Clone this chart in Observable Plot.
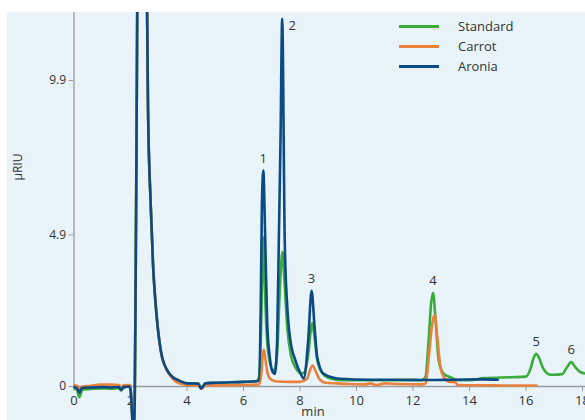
<!DOCTYPE html>
<html>
<head>
<meta charset="utf-8">
<script src="https://cdn.jsdelivr.net/npm/d3@7"></script>
<script src="https://cdn.jsdelivr.net/npm/@observablehq/plot@0.6"></script>
<style>
  body { margin: 0; background: #fff; font-family: "Open Sans", "Noto Sans", sans-serif; }
  #wrap { position: relative; width: 585px; height: 420px; overflow: hidden; }
  #chart { position: absolute; left: 7px; top: 12px; }
  #chart svg { background: #e8f4f9; display: block; }
  .legend { position: absolute; left: 399px; top: 16px; font-size: 13px; color: #333; }
  .legend .row { display: flex; align-items: center; height: 20px; }
  .legend .sw { width: 40px; height: 3px; margin-right: 19px; }
  .ytitle { position: absolute; left: 17px; top: 167px; transform: translate(-50%, -50%) rotate(-90deg); font-size: 12px; color: #333; }
  .xtitle { position: absolute; left: 313px; top: 411px; transform: translate(-50%, -50%); font-size: 13px; line-height: 15px; color: #333; }
</style>
</head>
<body>
<div id="wrap">
  <div id="chart"></div>
  <div class="legend" id="legend"></div>
  <div class="ytitle">µRIU</div>
  <div class="xtitle">min</div>
</div>
<script>
// Retention time (min) and detector response (µRIU) for each run
const standardTime = [0, 0.1, 0.19, 0.3, 0.6, 1.0, 1.3, 1.6, 1.66, 1.75, 1.95, 2.0, 2.05, 2.1, 2.15, 2.2, 2.4, 2.58, 2.62, 2.71, 2.8, 2.88, 3.07, 3.3, 3.5, 3.72, 4.0, 4.4, 4.5, 4.65, 5.0, 6.0, 6.45, 6.55, 6.62, 6.66, 6.70, 6.75, 6.82, 6.92, 7.04, 7.1, 7.2, 7.27, 7.33, 7.38, 7.45, 7.55, 7.68, 7.85, 8.05, 8.15, 8.3, 8.38, 8.43, 8.5, 8.6, 8.8, 9.1, 9.5, 10.5, 11.5, 12.3, 12.44, 12.56, 12.64, 12.71, 12.8, 12.91, 13.09, 13.33, 13.6, 14.0, 14.5, 15.5, 16.0, 16.15, 16.28, 16.36, 16.45, 16.6, 16.8, 16.97, 17.28, 17.45, 17.6, 17.75, 17.93, 18.11];
const standardValue = [-0.05, -0.1, -0.35, -0.1, -0.08, -0.06, -0.07, -0.05, -0.12, -0.05, 0.0, -0.1, -0.8, -1.6, -0.5, 6, 35, 13, 9, 6.0, 3.9, 2.78, 1.17, 0.52, 0.3, 0.19, 0.1, 0.1, -0.05, 0.1, 0.12, 0.15, 0.17, 0.3, 1.8, 3.6, 4.83, 3.4, 1.7, 0.85, 0.52, 0.55, 1.2, 2.8, 3.9, 4.35, 3.4, 1.9, 1.0, 0.6, 0.42, 0.45, 1.1, 1.8, 2.05, 1.7, 0.9, 0.42, 0.25, 0.2, 0.2, 0.2, 0.2, 0.3, 1.6, 2.68, 3.03, 2.14, 0.84, 0.41, 0.3, 0.2, 0.2, 0.27, 0.3, 0.32, 0.55, 0.95, 1.06, 0.95, 0.6, 0.4, 0.38, 0.4, 0.62, 0.79, 0.62, 0.46, 0.42];

const carrotTime = [0, 0.15, 0.19, 0.3, 0.6, 0.9, 1.3, 1.6, 1.66, 1.75, 1.95, 2.0, 2.05, 2.1, 2.15, 2.2, 2.4, 2.58, 2.62, 2.71, 2.8, 2.88, 3.07, 3.3, 3.5, 3.72, 4.0, 4.4, 4.5, 4.65, 5.0, 6.0, 6.55, 6.63, 6.68, 6.72, 6.78, 6.86, 6.98, 7.2, 7.6, 8.0, 8.25, 8.36, 8.45, 8.55, 8.7, 8.9, 9.3, 9.8, 10.3, 10.5, 10.7, 11.0, 11.5, 12.3, 12.45, 12.56, 12.68, 12.77, 12.86, 12.97, 13.09, 13.3, 13.5, 13.58, 14.5, 15.5, 16.37];
const carrotValue = [0.05, 0.0, -0.1, 0.0, 0.02, 0.06, 0.06, 0.05, -0.05, 0.04, 0.05, 0.02, -0.8, -1.6, -0.5, 6, 35, 13, 9, 6.0, 3.9, 2.78, 1.17, 0.5, 0.25, 0.1, 0.05, 0.04, -0.07, 0.03, 0.04, 0.05, 0.07, 0.4, 1.0, 1.19, 0.85, 0.4, 0.22, 0.16, 0.15, 0.15, 0.25, 0.55, 0.68, 0.5, 0.22, 0.12, 0.1, 0.08, 0.07, 0.1, 0.05, 0.1, 0.08, 0.07, 0.1, 0.95, 2.03, 2.32, 1.6, 0.62, 0.3, 0.15, 0.14, 0.05, 0.04, 0.03, 0.03];

const aroniaTime = [0, 0.1, 0.19, 0.28, 0.6, 1.0, 1.3, 1.6, 1.66, 1.75, 1.95, 2.0, 2.05, 2.1, 2.15, 2.2, 2.4, 2.58, 2.62, 2.71, 2.8, 2.88, 3.07, 3.3, 3.5, 3.72, 4.0, 4.4, 4.5, 4.65, 5.0, 6.0, 6.45, 6.54, 6.61, 6.65, 6.70, 6.77, 6.84, 6.93, 7.04, 7.11, 7.19, 7.25, 7.31, 7.37, 7.46, 7.55, 7.66, 7.84, 8.02, 8.13, 8.29, 8.41, 8.51, 8.61, 8.84, 9.43, 10.5, 11.5, 12.5, 13.5, 14.5, 15.0];
const aroniaValue = [-0.02, -0.05, -0.2, -0.05, -0.03, -0.02, -0.03, -0.02, -0.12, -0.02, 0.0, -0.1, -0.8, -1.6, -0.5, 6, 35, 13, 9, 6.0, 3.9, 2.78, 1.17, 0.52, 0.3, 0.19, 0.1, 0.09, -0.07, 0.1, 0.12, 0.15, 0.17, 0.19, 2.57, 5.8, 6.99, 4.72, 2.03, 0.95, 0.46, 0.41, 1.49, 4.72, 7.96, 11.9, 4.7, 2.57, 1.49, 0.84, 0.42, 0.26, 1.49, 3.1, 2.0, 0.95, 0.41, 0.25, 0.22, 0.22, 0.21, 0.22, 0.23, 0.22];

// Numbered peaks: retention time and apex height of the tallest trace
const peakNames = ["1", "2", "3", "4", "5", "6"];
const peakTime = [6.70, 7.37, 8.41, 12.71, 16.36, 17.6];
const peakValue = [6.99, 11.9, 3.1, 3.03, 1.06, 0.79];

// Axis ticks
const xTicks = [0, 2, 4, 6, 8, 10, 12, 14, 16, 18];
const yTicks = [0, 4.9, 9.9];
const yTickLabels = ["0", "4.9", "9.9"];

const seriesNames = ["Standard", "Carrot", "Aronia"];
const seriesColors = ["#3bab3c", "#e9813d", "#0c4a85"];

const toRows = (name, t, v) => t.map((d, i) => ({series: name, t: d, v: v[i]}));
const rows = [
  ...toRows("Standard", standardTime, standardValue),
  ...toRows("Carrot", carrotTime, carrotValue),
  ...toRows("Aronia", aroniaTime, aroniaValue)
];
const peaks = peakNames.map((n, i) => ({name: n, t: peakTime[i], v: peakValue[i]}));
// peak 2 is labelled beside its apex, the others above
const peaksAbove = peaks.filter(p => p.name !== "2");
const peaksBeside = peaks.filter(p => p.name === "2");

const xDomain = [0, 18.106];
const yDomain = [-1.10, 12.10];
const axisColor = "#9a9a9a";
const textColor = "#333";

const chart = Plot.plot({
  width: 578,
  height: 408,
  marginLeft: 66.5,
  marginRight: 0,
  marginTop: 0,
  marginBottom: 0,
  style: {fontFamily: "'Open Sans', 'Noto Sans', sans-serif", background: "#e8f4f9", overflow: "hidden"},
  x: {domain: xDomain, axis: null},
  y: {domain: yDomain, axis: null},
  color: {domain: seriesNames, range: seriesColors},
  marks: [
    // axes
    Plot.ruleY([0], {stroke: axisColor, strokeWidth: 1.3}),
    Plot.ruleX([0], {y1: 0, y2: yDomain[1], stroke: axisColor, strokeWidth: 1.3}),
    Plot.ruleX(xTicks, {x: d => d, y1: 0, y2: 0, insetBottom: -5, stroke: axisColor}),
    Plot.ruleY(yTicks, {y: d => d, x1: 0, x2: 0, insetLeft: -5, stroke: axisColor}),
    Plot.text(xTicks, {x: d => d, y: 0, text: d => String(d), dy: 14, fontSize: 13, fill: textColor}),
    Plot.text(yTicks, {x: 0, y: d => d, text: (d, i) => yTickLabels[i], dx: -8, textAnchor: "end", fontSize: 12, fill: textColor}),
    // traces
    ...seriesNames.map(name => Plot.line(rows.filter(r => r.series === name), {
      x: "t", y: "v", stroke: "series", strokeWidth: 2.6, curve: "monotone-x", clip: true
    })),
    // peak numbers
    Plot.text(peaksAbove, {x: "t", y: "v", text: "name", dy: -12, fontSize: 13, fill: textColor}),
    Plot.text(peaksBeside, {x: "t", y: "v", text: "name", dx: 10, dy: 7, fontSize: 13, fill: textColor})
  ]
});
document.getElementById("chart").append(chart);

// legend
const legend = document.getElementById("legend");
seriesNames.forEach((name, i) => {
  const row = document.createElement("div");
  row.className = "row";
  const sw = document.createElement("div");
  sw.className = "sw";
  sw.style.background = seriesColors[i];
  const label = document.createElement("span");
  label.textContent = name;
  row.append(sw, label);
  legend.append(row);
});
</script>
</body>
</html>
